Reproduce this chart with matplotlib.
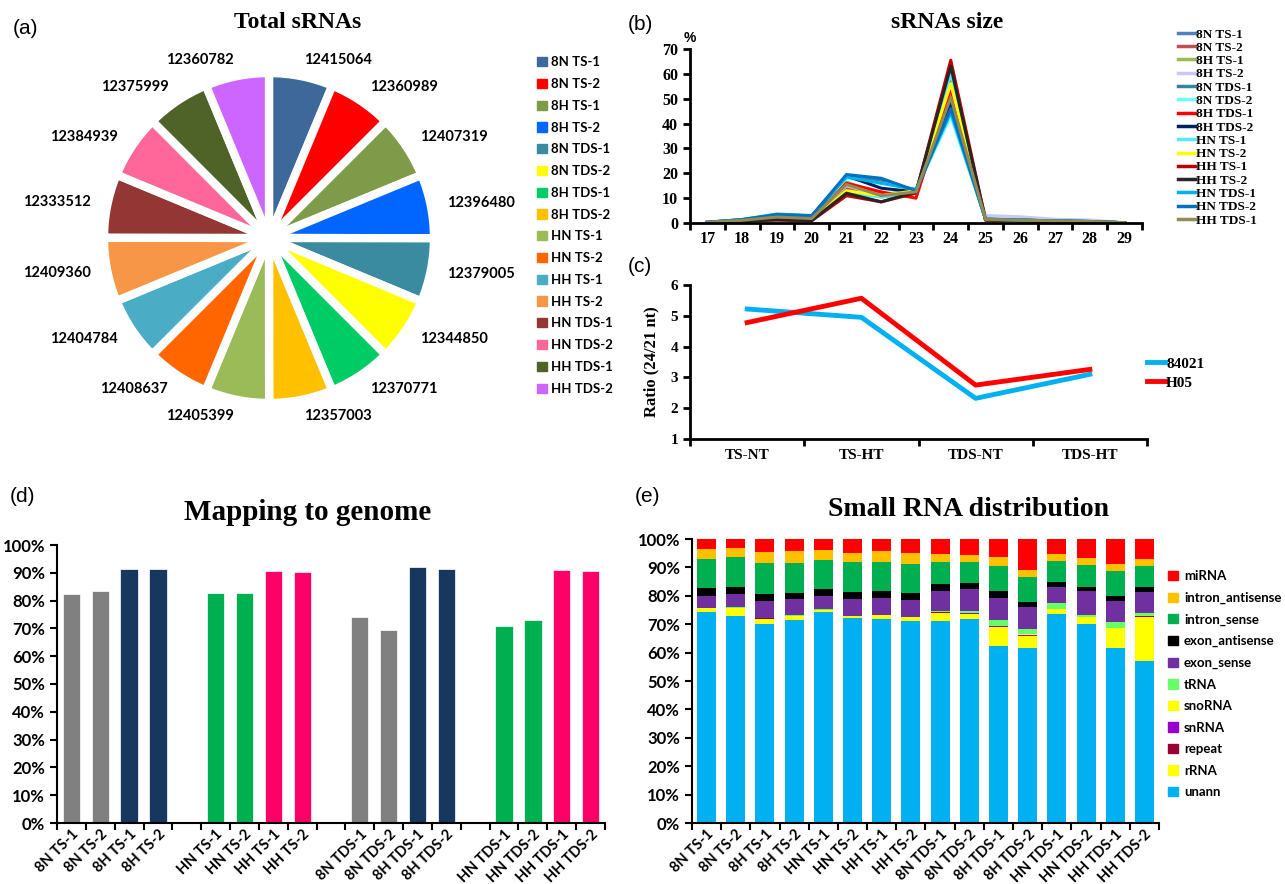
import matplotlib
matplotlib.use("Agg")
import matplotlib.pyplot as plt
from matplotlib.lines import Line2D
from matplotlib.patches import Patch, Circle
from matplotlib.ticker import FixedLocator, NullFormatter, FixedFormatter

W, H = 1285, 884
fig = plt.figure(figsize=(W / 100, H / 100), dpi=100)

SERIF = "Liberation Serif"
SANS = "Lato"
ARIAL = "Liberation Sans"

# ---------------- data ----------------
samples = ["8N TS-1", "8N TS-2", "8H TS-1", "8H TS-2", "8N TDS-1", "8N TDS-2",
           "8H TDS-1", "8H TDS-2", "HN TS-1", "HN TS-2", "HH TS-1", "HH TS-2",
           "HN TDS-1", "HN TDS-2", "HH TDS-1", "HH TDS-2"]
total_srnas = [12415064, 12360989, 12407319, 12396480, 12379005, 12344850,
               12370771, 12357003, 12405399, 12408637, 12404784, 12409360,
               12333512, 12384939, 12375999, 12360782]
pie_colors = ["#3E6899", "#FF0000", "#7F9A48", "#0066FF", "#3A8BA0", "#FFFF00",
              "#00CC66", "#FFC000", "#9BBB59", "#FF6600", "#4BACC6", "#F79646",
              "#943634", "#FF6699", "#4F6228", "#CC66FF"]

sizes = [17, 18, 19, 20, 21, 22, 23, 24, 25, 26, 27, 28, 29]
size_names = ["8N TS-1", "8N TS-2", "8H TS-1", "8H TS-2", "8N TDS-1", "8N TDS-2",
              "8H TDS-1", "8H TDS-2", "HN TS-1", "HN TS-2", "HH TS-1", "HH TS-2",
              "HN TDS-1", "HN TDS-2", "HH TDS-1"]
size_8N_TS1 = [0.3, 1.2, 2.2, 1.5, 13.5, 10.5, 12.0, 59.0, 1.5, 1.2, 0.8, 0.6, 0.1]
size_8N_TS2 = [0.3, 1.1, 2.0, 1.4, 14.0, 11.0, 12.5, 58.0, 1.6, 1.2, 0.8, 0.6, 0.1]
size_8H_TS1 = [0.3, 1.2, 2.8, 2.0, 16.5, 11.5, 13.0, 51.0, 1.8, 1.3, 0.9, 0.7, 0.1]
size_8H_TS2 = [0.4, 1.3, 2.5, 2.0, 15.0, 11.0, 12.5, 50.0, 3.0, 2.5, 1.5, 1.2, 0.1]
size_8N_TDS1 = [0.3, 1.3, 3.2, 2.8, 18.5, 17.0, 13.0, 45.0, 1.5, 1.2, 0.8, 0.6, 0.1]
size_8N_TDS2 = [0.3, 1.3, 3.5, 3.0, 18.0, 16.0, 13.5, 43.0, 1.6, 1.2, 0.8, 0.6, 0.1]
size_8H_TDS1 = [0.2, 0.9, 1.5, 1.2, 16.0, 12.5, 10.0, 54.0, 1.3, 1.0, 0.7, 0.5, 0.1]
size_8H_TDS2 = [0.3, 1.2, 3.0, 2.5, 19.0, 14.0, 12.5, 48.0, 1.5, 1.2, 0.8, 0.6, 0.1]
size_HN_TS1 = [0.3, 1.0, 2.0, 1.3, 12.0, 10.5, 12.0, 60.0, 1.5, 1.1, 0.7, 0.5, 0.1]
size_HN_TS2 = [0.3, 1.0, 2.0, 1.3, 13.0, 11.0, 13.0, 56.0, 1.5, 1.1, 0.7, 0.5, 0.1]
size_HH_TS1 = [0.2, 0.8, 1.2, 0.9, 11.0, 8.5, 12.0, 65.5, 1.2, 0.9, 0.6, 0.4, 0.1]
size_HH_TS2 = [0.2, 0.8, 1.3, 1.0, 12.0, 8.5, 12.5, 63.0, 1.2, 0.9, 0.6, 0.4, 0.1]
size_HN_TDS1 = [0.3, 1.4, 3.6, 3.0, 18.5, 16.0, 13.5, 44.5, 1.6, 1.2, 0.8, 0.6, 0.1]
size_HN_TDS2 = [0.3, 1.4, 3.4, 2.9, 19.5, 18.0, 13.0, 46.0, 1.5, 1.2, 0.8, 0.6, 0.1]
size_HH_TDS1 = [0.3, 1.1, 2.4, 1.8, 15.5, 11.0, 12.5, 50.5, 1.5, 1.1, 0.8, 0.6, 0.1]
size_values = [size_8N_TS1, size_8N_TS2, size_8H_TS1, size_8H_TS2, size_8N_TDS1,
               size_8N_TDS2, size_8H_TDS1, size_8H_TDS2, size_HN_TS1, size_HN_TS2,
               size_HH_TS1, size_HH_TS2, size_HN_TDS1, size_HN_TDS2, size_HH_TDS1]
size_colors = ["#4F81BD", "#C0504D", "#9BBB59", "#C8C8F2", "#31859C", "#66FFFF",
               "#FF0000", "#002060", "#55E8FF", "#FFFF00", "#C00000", "#262626",
               "#00B0F0", "#0070C0", "#948A54"]

conditions = ["TS-NT", "TS-HT", "TDS-NT", "TDS-HT"]
ratio_84021 = [5.22, 4.95, 2.32, 3.10]
ratio_H05 = [4.78, 5.57, 2.75, 3.26]

mapping_rates = [82.4, 83.3, 91.3, 91.3, 82.7, 82.9, 90.8, 90.4,
                 74.0, 69.6, 92.2, 91.3, 70.8, 73.1, 91.0, 90.8]
map_samples = ["8N TS-1", "8N TS-2", "8H TS-1", "8H TS-2",
               "HN TS-1", "HN TS-2", "HH TS-1", "HH TS-2",
               "8N TDS-1", "8N TDS-2", "8H TDS-1", "8H TDS-2",
               "HN TDS-1", "HN TDS-2", "HH TDS-1", "HH TDS-2"]
genotype_colors = {"8N": "#808080", "8H": "#17375E", "HN": "#00B050", "HH": "#FF0066"}

dist_samples = ["8N TS-1", "8N TS-2", "8H TS-1", "8H TS-2", "HN TS-1", "HN TS-2",
                "HH TS-1", "HH TS-2", "8N TDS-1", "8N TDS-2", "8H TDS-1", "8H TDS-2",
                "HN TDS-1", "HN TDS-2", "HH TDS-1", "HH TDS-2"]
unann = [74.4, 72.9, 69.9, 71.4, 74.4, 72.2, 71.9, 71.3, 71.2, 71.7, 62.3, 61.7, 73.7, 70.0, 61.5, 57.0]
rRNA = [1.0, 2.7, 2.1, 1.4, 0.6, 0.6, 1.2, 1.1, 2.9, 1.9, 6.6, 4.0, 1.5, 2.2, 6.8, 15.7]
repeat = [0.05, 0.05, 0.05, 0.05, 0.05, 0.05, 0.05, 0.05, 0.1, 0.1, 0.1, 0.1, 0.05, 0.05, 0.05, 0.05]
snRNA = [0.05, 0.05, 0.05, 0.05, 0.05, 0.05, 0.05, 0.05, 0.1, 0.1, 0.2, 0.4, 0.05, 0.05, 0.05, 0.05]
snoRNA = [0.1, 0.1, 0.1, 0.1, 0.05, 0.05, 0.05, 0.05, 0.1, 0.1, 0.2, 0.3, 0.1, 0.1, 0.1, 0.1]
tRNA = [0.1, 0.1, 0.1, 0.2, 0.05, 0.05, 0.05, 0.05, 0.3, 0.7, 2.0, 1.9, 1.9, 0.7, 2.2, 1.1]
exon_sense = [4.3, 4.7, 5.7, 5.5, 4.9, 5.8, 6.1, 5.9, 7.0, 7.7, 8.0, 7.7, 5.9, 8.5, 7.6, 7.4]
exon_antisense = [2.6, 2.5, 2.6, 2.4, 2.3, 2.5, 2.4, 2.6, 2.3, 2.1, 2.3, 1.8, 1.6, 1.6, 1.7, 1.6]
intron_sense = [10.5, 10.4, 10.8, 10.6, 10.3, 10.6, 10.1, 10.0, 7.9, 7.4, 8.9, 8.7, 7.6, 7.6, 8.6, 7.6]
intron_antisense = [3.5, 3.4, 4.0, 4.0, 3.3, 3.3, 3.8, 4.1, 2.8, 2.6, 2.9, 2.4, 2.3, 2.4, 2.5, 2.2]
miRNA = [3.4, 3.1, 4.6, 4.3, 4.0, 4.8, 4.3, 4.8, 5.3, 5.6, 6.5, 11.0, 5.3, 6.8, 8.9, 7.2]
dist_names = ["unann", "rRNA", "repeat", "snRNA", "snoRNA", "tRNA", "exon_sense",
              "exon_antisense", "intron_sense", "intron_antisense", "miRNA"]
dist_values = [unann, rRNA, repeat, snRNA, snoRNA, tRNA, exon_sense,
               exon_antisense, intron_sense, intron_antisense, miRNA]
dist_colors = ["#00B0F0", "#FFFF00", "#990033", "#9900CC", "#FFFF00", "#66FF66",
               "#7030A0", "#000000", "#00B050", "#FFC000", "#FF0000"]


def px_axes(x0, y0, x1, y1):
    return fig.add_axes([x0 / W, 1 - y1 / H, (x1 - x0) / W, (y1 - y0) / H])


def ftext(x, y, s, **kw):
    fig.text(x / W, 1 - y / H, s, **kw)


# ---------------- (a) pie ----------------
ax_a = px_axes(104, 73, 434, 403)
wedges, texts = ax_a.pie(total_srnas, colors=pie_colors, startangle=90, counterclock=False,
                         labels=[str(v) for v in total_srnas], labeldistance=1.1,
                         wedgeprops=dict(edgecolor="white", linewidth=6),
                         textprops=dict(family=SANS, weight="bold", fontsize=10.5))
ax_a.add_patch(Circle((0, 0), 0.07, color="white", zorder=5))
ax_a.set_xlim(-1, 1)
ax_a.set_ylim(-1, 1)
ax_a.set_aspect("equal")
ftext(25, 28, "(a)", family=ARIAL, fontsize=15, ha="center", va="center")
ftext(298, 23, "Total sRNAs", family=SERIF, weight="bold", fontsize=17, ha="center", va="center")
fig.legend(handles=[Patch(color=c, label=s) for c, s in zip(pie_colors, samples)],
           loc="upper left", bbox_to_anchor=(532 / W, 1 - 51 / H), frameon=False,
           prop=dict(family=SANS, weight="bold", size=9.5), handlelength=0.7,
           handleheight=0.7, handletextpad=0.35, labelspacing=0.74, borderaxespad=0)

# ---------------- (b) size distribution ----------------
ax_b = px_axes(690, 49, 1142, 223)
for name, vals, col in zip(size_names, size_values, size_colors):
    ax_b.plot(sizes, vals, color=col, lw=2.2, label=name)
ax_b.set_xlim(sizes[0] - 0.5, sizes[-1] + 0.5)
ax_b.set_ylim(0, 70)
ax_b.set_yticks(range(0, 71, 10))
ax_b.xaxis.set_major_locator(FixedLocator([s - 0.5 for s in sizes] + [sizes[-1] + 0.5]))
ax_b.xaxis.set_major_formatter(NullFormatter())
ax_b.xaxis.set_minor_locator(FixedLocator(sizes))
ax_b.xaxis.set_minor_formatter(FixedFormatter([str(s) for s in sizes]))
ax_b.tick_params(axis="x", which="minor", length=0, pad=6)
ax_b.tick_params(axis="both", which="major", direction="out", length=5, width=2)
for lab in ax_b.get_xticklabels(minor=True) + ax_b.get_yticklabels():
    lab.set_family(SERIF)
    lab.set_weight("bold")
    lab.set_fontsize(11.5)
for sp in ["top", "right"]:
    ax_b.spines[sp].set_visible(False)
for sp in ["left", "bottom"]:
    ax_b.spines[sp].set_linewidth(2)
ftext(640, 25, "(b)", family=ARIAL, fontsize=15, ha="center", va="center")
ftext(947, 23, "sRNAs size", family=SERIF, weight="bold", fontsize=17, ha="center", va="center")
ftext(690, 38, "%", family=ARIAL, weight="bold", fontsize=10, ha="center", va="center")
fig.legend(handles=[Line2D([], [], color=c, lw=2.5, label=n) for n, c in zip(size_names, size_colors)],
           loc="upper left", bbox_to_anchor=(1173 / W, 1 - 23 / H), frameon=False,
           prop=dict(family=SERIF, weight="bold", size=9.5), handlelength=1.3,
           handletextpad=0.05, labelspacing=0.08, borderaxespad=0)

# ---------------- (c) ratio ----------------
ax_c = px_axes(690, 285, 1147, 439)
xc = list(range(len(conditions)))
ax_c.plot(xc, ratio_84021, color="#00B0F0", lw=3.5, label="84021")
ax_c.plot(xc, ratio_H05, color="#FF0000", lw=3.5, label="H05")
ax_c.set_xlim(-0.5, len(conditions) - 0.5)
ax_c.set_ylim(1, 6)
ax_c.set_yticks(range(1, 7))
ax_c.xaxis.set_major_locator(FixedLocator([i - 0.5 for i in range(len(conditions) + 1)]))
ax_c.xaxis.set_major_formatter(NullFormatter())
ax_c.xaxis.set_minor_locator(FixedLocator(xc))
ax_c.xaxis.set_minor_formatter(FixedFormatter(conditions))
ax_c.tick_params(axis="x", which="minor", length=0, pad=7)
ax_c.tick_params(axis="both", which="major", direction="out", length=5, width=2)
for lab in ax_c.get_xticklabels(minor=True) + ax_c.get_yticklabels():
    lab.set_family(SERIF)
    lab.set_weight("bold")
    lab.set_fontsize(11)
ax_c.set_ylabel("Ratio (24/21 nt)", family=SERIF, weight="bold", fontsize=12, labelpad=8)
for sp in ["top", "right"]:
    ax_c.spines[sp].set_visible(False)
for sp in ["left", "bottom"]:
    ax_c.spines[sp].set_linewidth(2)
ftext(640, 266, "(c)", family=ARIAL, fontsize=15, ha="center", va="center")
fig.legend(handles=[Line2D([], [], color="#00B0F0", lw=3.5, label="84021"),
                    Line2D([], [], color="#FF0000", lw=3.5, label="H05")],
           loc="upper left", bbox_to_anchor=(1141 / W, 1 - 351 / H), frameon=False,
           prop=dict(family=SERIF, weight="bold", size=11), handlelength=1.2,
           handletextpad=0.05, labelspacing=0.35, borderaxespad=0)

# ---------------- (d) mapping ----------------
ax_d = px_axes(57, 545, 605, 823)
xd = [i + i // 4 for i in range(len(map_samples))]
cd = [genotype_colors[s[:2]] for s in map_samples]
ax_d.bar(xd, mapping_rates, width=0.6, color=cd, edgecolor="white", linewidth=0.5)
nslots = xd[-1] + 1
ax_d.set_xlim(-0.5, nslots - 0.5)
ax_d.set_ylim(0, 100)
ax_d.set_yticks(range(0, 101, 10))
ax_d.set_yticklabels([f"{v}%" for v in range(0, 101, 10)])
ax_d.xaxis.set_major_locator(FixedLocator([i - 0.5 for i in range(nslots + 1)]))
ax_d.xaxis.set_major_formatter(NullFormatter())
ax_d.xaxis.set_minor_locator(FixedLocator(xd))
ax_d.xaxis.set_minor_formatter(FixedFormatter(map_samples))
ax_d.tick_params(axis="x", which="minor", length=0, pad=3)
ax_d.tick_params(axis="both", which="major", direction="out", length=5, width=1.5)
for lab in ax_d.get_xticklabels(minor=True):
    lab.set_rotation(45)
    lab.set_ha("right")
    lab.set_rotation_mode("anchor")
    lab.set_family(SANS)
    lab.set_weight("bold")
    lab.set_fontsize(10.5)
for lab in ax_d.get_yticklabels():
    lab.set_family(SANS)
    lab.set_weight("bold")
    lab.set_fontsize(12)
for sp in ["top", "right"]:
    ax_d.spines[sp].set_visible(False)
for sp in ["left", "bottom"]:
    ax_d.spines[sp].set_linewidth(1.5)
ftext(22, 497, "(d)", family=ARIAL, fontsize=15, ha="center", va="center")
ftext(308, 512, "Mapping to genome", family=SERIF, weight="bold", fontsize=21, ha="center", va="center")

# ---------------- (e) distribution ----------------
ax_e = px_axes(692, 539, 1159, 823)
xe = list(range(len(dist_samples)))
bottom = [0.0] * len(dist_samples)
handles_e = []
for name, vals, col in zip(dist_names, dist_values, dist_colors):
    ax_e.bar(xe, vals, bottom=bottom, width=0.65, color=col, linewidth=0)
    bottom = [b + v for b, v in zip(bottom, vals)]
    handles_e.append(Patch(color=col, label=name))
ax_e.set_xlim(-0.5, len(dist_samples) - 0.5)
ax_e.set_ylim(0, 100)
ax_e.set_yticks(range(0, 101, 10))
ax_e.set_yticklabels([f"{v}%" for v in range(0, 101, 10)])
ax_e.xaxis.set_major_locator(FixedLocator([i - 0.5 for i in range(len(dist_samples) + 1)]))
ax_e.xaxis.set_major_formatter(NullFormatter())
ax_e.xaxis.set_minor_locator(FixedLocator(xe))
ax_e.xaxis.set_minor_formatter(FixedFormatter(dist_samples))
ax_e.tick_params(axis="x", which="minor", length=0, pad=3)
ax_e.tick_params(axis="both", which="major", direction="out", length=5, width=1.5)
for lab in ax_e.get_xticklabels(minor=True):
    lab.set_rotation(45)
    lab.set_ha("right")
    lab.set_rotation_mode("anchor")
    lab.set_family(SANS)
    lab.set_weight("bold")
    lab.set_fontsize(10.5)
for lab in ax_e.get_yticklabels():
    lab.set_family(SANS)
    lab.set_weight("bold")
    lab.set_fontsize(12)
for sp in ["top", "right"]:
    ax_e.spines[sp].set_visible(False)
for sp in ["left", "bottom"]:
    ax_e.spines[sp].set_linewidth(1.5)
ftext(648, 497, "(e)", family=ARIAL, fontsize=15, ha="center", va="center")
ftext(968, 510, "Small RNA distribution", family=SERIF, weight="bold", fontsize=20, ha="center", va="center")
fig.legend(handles=handles_e[::-1], loc="upper left", bbox_to_anchor=(1163 / W, 1 - 565 / H),
           frameon=False, prop=dict(family=SANS, weight="bold", size=9.5), handlelength=0.7,
           handleheight=0.7, handletextpad=0.5, labelspacing=0.72, borderaxespad=0)

fig.savefig("out.png", dpi=100, facecolor="white")
